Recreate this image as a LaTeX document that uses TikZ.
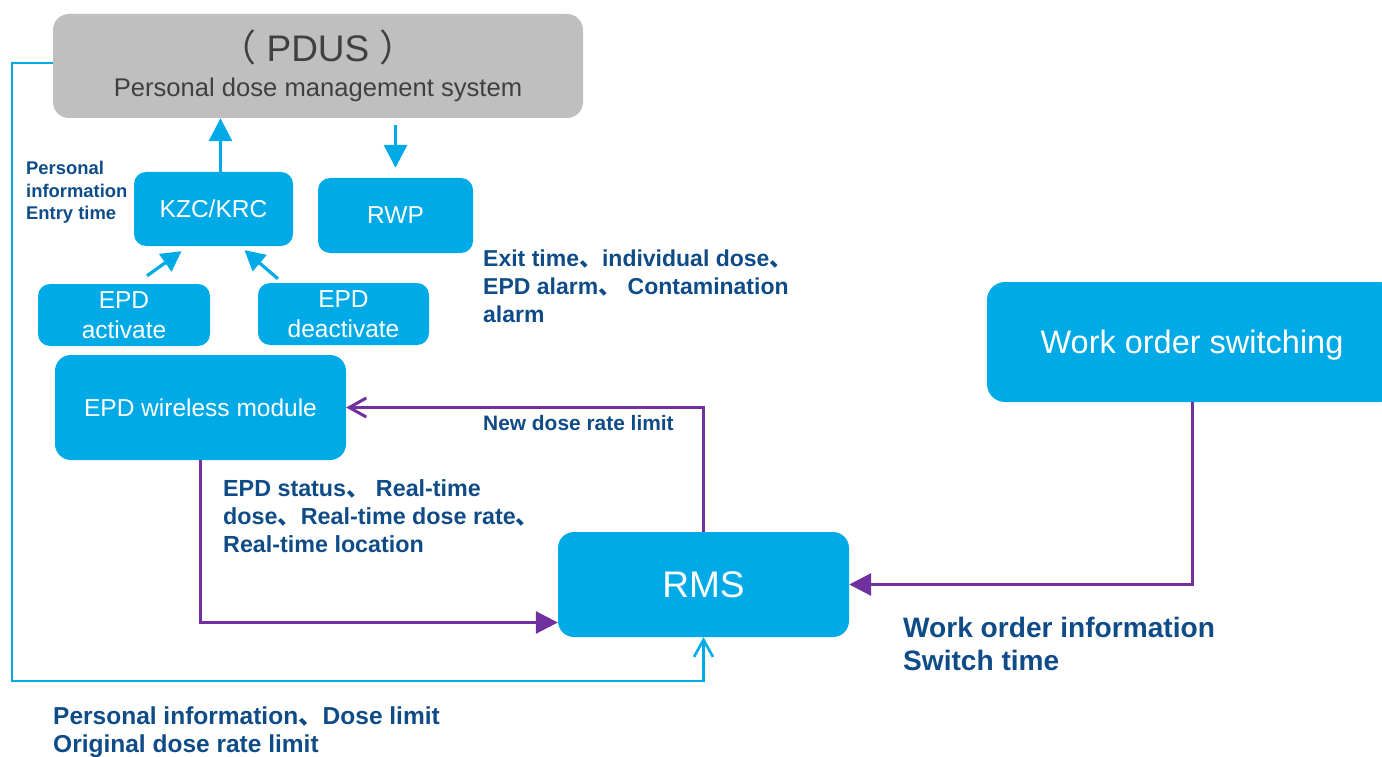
\documentclass[tikz,border=0pt]{standalone}
\usepackage{fontspec}
\setmainfont{Liberation Sans}
\newfontfamily\cjk{Noto Sans CJK SC}
\usetikzlibrary{arrows.meta}

\definecolor{boxblue}{HTML}{00AAE6}
\definecolor{linkpurple}{HTML}{7030A0}
\definecolor{labelnavy}{HTML}{0F4C87}
\definecolor{pdusgray}{HTML}{BFBFBF}
\definecolor{pdustext}{HTML}{404040}

% ideographic comma and full-width brackets
\newcommand\dun{{\cjk 、}}
\newcommand\lbr{{\cjk （}}
\newcommand\rbr{{\cjk ）}}

\tikzset{
  unitbox/.style={fill=boxblue, text=white, rounded corners=12pt, inner sep=0pt,
    align=center, font=\fontsize{24.5}{30}\selectfont},
  infolabel/.style 2 args={text=labelnavy, anchor=north west, align=left, inner sep=0pt,
    font=\bfseries\fontsize{#1}{#2}\selectfont},
  blueflow/.style={draw=boxblue, line width=3.2pt},
  bluewire/.style={draw=boxblue, line width=2.6pt},
  purpleflow/.style={draw=linkpurple, line width=3pt},
  filledtip/.style={-{Triangle[length=23pt,width=23pt]}},
  opentip/.style={-{Straight Barb[length=17pt,width=19pt,line width=3pt]}},
}

\begin{document}
\begin{tikzpicture}[x=1pt,y=-1pt]
\useasboundingbox (0,0) rectangle (1382,757);
\clip (0,0) rectangle (1382,757);

% ---- system boxes ----
\node[fill=pdusgray, rounded corners=16pt, minimum width=530pt, minimum height=104pt,
      text=pdustext, align=center, inner sep=0pt] (pdus) at (318,66)
  {{\fontsize{37}{40}\selectfont\lbr\hspace{10pt}PDUS\hspace{10pt}\rbr}\\[12pt]
   {\fontsize{25.6}{30}\selectfont Personal dose management system}};

\node[unitbox, minimum width=159pt, minimum height=74pt] (kzc) at (213.5,209) {KZC/KRC};
\node[unitbox, minimum width=155pt, minimum height=75pt] (rwp) at (395.5,215.5) {RWP};
\node[unitbox, minimum width=172pt, minimum height=62pt] (act) at (124,315) {EPD\\activate};
\node[unitbox, minimum width=171pt, minimum height=62pt] (deact) at (343.5,314) {EPD\\deactivate};
\node[unitbox, rounded corners=16pt, minimum width=291pt, minimum height=105pt] (wireless) at (200.5,407.5) {EPD wireless module};
\node[unitbox, rounded corners=16pt, minimum width=291pt, minimum height=105pt,
      font=\fontsize{37}{40}\selectfont] (rms) at (703.5,584.5) {RMS};
\node[unitbox, rounded corners=18pt, minimum width=410pt, minimum height=120pt,
      text depth=0pt, font=\fontsize{32.5}{36}\selectfont] (wos) at (1192,342) {Work order switching};

% ---- blue data flows ----
\draw[blueflow, filledtip] ([xshift=7pt]kzc.north) -- ([xshift=7pt]kzc.north |- pdus.south);
\draw[blueflow, filledtip] ([yshift=-7pt]pdus.south -| rwp) -- ([yshift=10pt]rwp.north);
\draw[blueflow, -{Triangle[length=20pt,width=21pt]}]
  ([xshift=23pt,yshift=8pt]act.north) -- ([xshift=-32pt,yshift=-5pt]kzc.south);
\draw[blueflow, -{Triangle[length=20pt,width=21pt]}]
  ([xshift=-65.5pt,yshift=4pt]deact.north) -- ([xshift=31pt,yshift=-4pt]kzc.south);

\coordinate (loopL) at (12,681);
\draw[bluewire, -{Straight Barb[length=17pt,width=19pt,line width=2.6pt]}]
  (pdus.west |- 0,63) -| (loopL) -| (rms.south);

% ---- purple control flows ----
\draw[purpleflow, opentip] (rms.north) |- (wireless.east);
\draw[purpleflow, -{Triangle[length=22pt,width=22pt]}]
  (wireless.south) |- ([yshift=-38pt]rms.west);
\draw[purpleflow, -{Triangle[length=22pt,width=22pt]}]
  (wos.south) |- (rms.east);

% ---- labels ----
\node[infolabel={18.4}{22.5}] (lblEntry) at (26,161) {Personal\\information\\Entry time};
\node[infolabel={23}{28}] (lblExit) at (483,250) {Exit time\dun individual dose\dun\\EPD alarm\dun\ Contamination\\alarm};
\node[infolabel={20.9}{24}] (lblNew) at (483,415) {New dose rate limit};
\node[infolabel={23.3}{28}] (lblStatus) at (223,479) {EPD status\dun\ Real-time\\dose\dun Real-time dose rate\dun\\Real-time location};
\node[infolabel={28.1}{33}] (lblWork) at (903,617) {Work order information\\Switch time};
\node[infolabel={24.5}{28}] (lblLimit) at (53,707) {Personal information\dun Dose limit\\Original dose rate limit};
\end{tikzpicture}
\end{document}
